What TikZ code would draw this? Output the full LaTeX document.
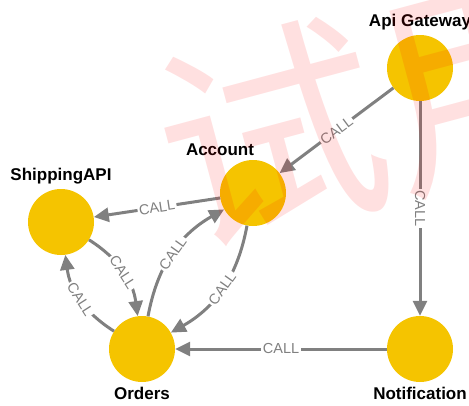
\documentclass[tikz,border=0pt]{standalone}
\usepackage{fontspec}
\setmainfont{Liberation Sans}
\newfontfamily\cjkfont{Noto Sans CJK SC}
\usetikzlibrary{arrows.meta}
\definecolor{nodegroc}{RGB}{245,196,0}
\definecolor{arestagris}{RGB}{128,128,128}
\tikzset{
  servei/.style={circle, fill=nodegroc, minimum size=66pt, inner sep=0pt},
  nom/.style={font=\fontsize{17}{20}\selectfont\bfseries, text=black, label distance=1pt},
  crida/.style={draw=arestagris, line width=3pt, -{Triangle[length=15pt,width=14pt]}},
  etiq/.style={fill=white, text=arestagris, font=\fontsize{14.5}{16}\selectfont, inner sep=1.5pt, sloped}
}

\begin{document}
\begin{tikzpicture}[x=1pt, y=-1pt]
        \useasboundingbox (0,0) rectangle (469,405);
        % Serveis
        \node[servei, label={[nom]above:Api Gateway}] (api) at (420,68) {};
        \node[servei, label={[nom, xshift=-33pt]above:Account}] (acc) at (253,193) {};
        \node[servei, label={[nom]above:ShippingAPI}] (ship) at (61,222) {};
        \node[servei, label={[nom]below:Orders}] (ord) at (142,349) {};
        \node[servei, label={[nom]below:Notification}] (notif) at (420,349) {};
        % Crides rectes
        \draw[crida] (api) -- node[etiq] {CALL} (acc);
        \draw[crida] (api) -- node[etiq] {CALL} (notif);
        \draw[crida] (acc) -- node[etiq] {CALL} (ship);
        \draw[crida] (notif) -- node[etiq] {CALL} (ord);
        % Crides corbes (parelles d'anada i tornada)
        \draw[crida] (ship) to[bend left=25] node[etiq] {CALL} (ord);
        \draw[crida] (ord) to[bend left=25] node[etiq] {CALL} (ship);
        \draw[crida] (ord) to[bend left=25] node[etiq] {CALL} (acc);
        \draw[crida] (acc) to[bend left=25] node[etiq] {CALL} (ord);
        % Marca d'aigua
        \node[rotate=15, text=red, opacity=0.12, font=\cjkfont\fontsize{225}{225}\selectfont] (marca) at (380,106) {试用};
\end{tikzpicture}
\end{document}
